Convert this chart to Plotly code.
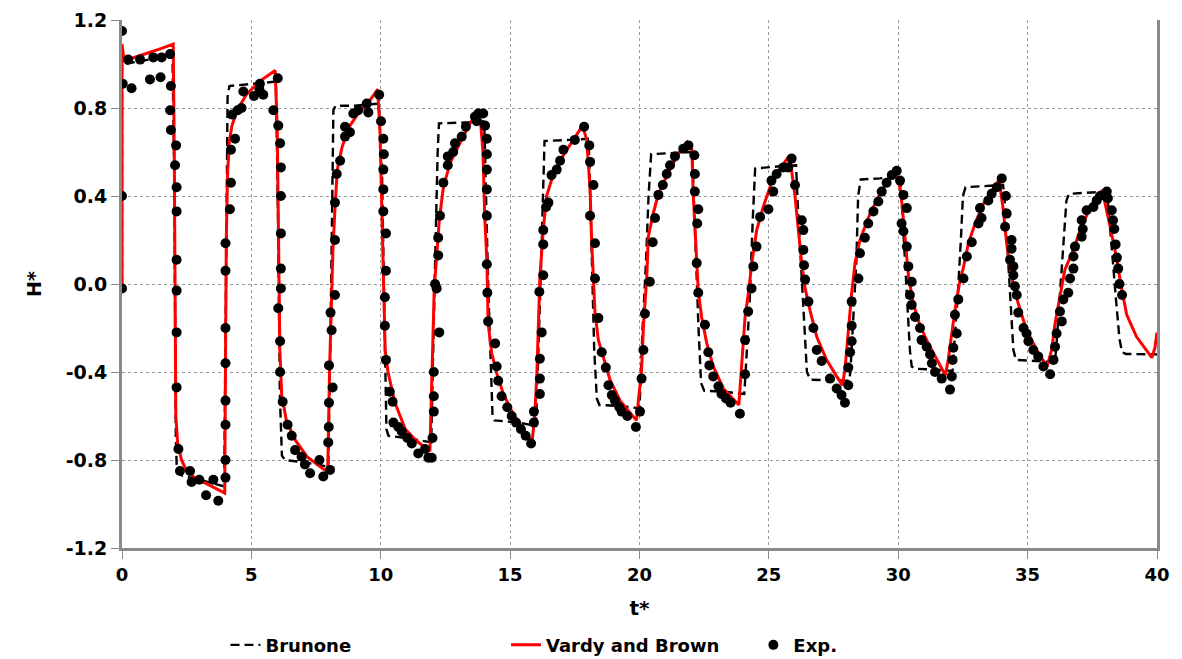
import plotly.graph_objects as go

vb_t = [0.0, 0.0, 0.08, 0.5, 1.0, 1.5, 1.98,
        2.02, 2.05, 2.08, 2.15, 2.3, 2.5, 2.8, 3.3, 3.97,
        4.03, 4.08, 4.15, 4.25, 4.45, 4.8, 5.3, 5.92,
        6.0, 6.05, 6.1, 6.17, 6.35, 6.7, 7.15, 7.65, 7.95,
        8.02, 8.08, 8.15, 8.23, 8.32, 8.5, 8.75, 9.13, 9.58, 9.88,
        9.97, 10.03, 10.1, 10.17, 10.28, 10.55, 10.95, 11.4, 11.9,
        11.98, 12.07, 12.16, 12.26, 12.42, 12.68, 13.06, 13.45, 13.82,
        13.95, 14.02, 14.1, 14.15, 14.29, 14.48, 14.74, 15.12, 15.51, 15.85,
        15.95, 16.03, 16.09, 16.15, 16.28, 16.41, 16.67, 17.06, 17.44, 17.8,
        17.96, 18.09, 18.15, 18.22, 18.28, 18.41, 18.6, 18.86, 19.25, 19.88,
        20.08, 20.15, 20.28, 20.34, 20.53, 20.73, 21.05, 21.44, 21.84,
        22.02, 22.08, 22.18, 22.27, 22.4, 22.6, 22.85, 23.24, 23.84,
        23.95, 24.08, 24.21, 24.34, 24.53, 24.78, 25.1, 25.43, 25.8,
        26.01, 26.14, 26.27, 26.4, 26.59, 26.85, 27.23, 27.62, 27.84,
        27.94, 28.07, 28.2, 28.33, 28.52, 28.84, 29.16, 29.55, 29.9,
        30.1, 30.2, 30.3, 30.4, 30.59, 30.84, 31.16, 31.49, 31.82,
        31.93, 32.07, 32.19, 32.39, 32.5, 32.71, 32.97, 33.29, 33.61, 33.9,
        34.06, 34.19, 34.38, 34.45, 34.64, 34.96, 35.35, 35.75,
        35.93, 36.06, 36.25, 36.44, 36.77, 37.03, 37.35, 37.67, 37.84,
        37.93, 38.19, 38.45, 38.6, 38.83, 39.21, 39.6, 39.8, 39.92, 40.0]
vb_h = [0.0, 1.09, 1.015, 1.03, 1.05, 1.07, 1.09,
        0.6, -0.2, -0.6, -0.72, -0.8, -0.85, -0.88, -0.91, -0.95,
        0.2, 0.5, 0.65, 0.72, 0.79, 0.86, 0.92, 0.97,
        0.7, 0.2, -0.3, -0.5, -0.62, -0.71, -0.785, -0.83, -0.855,
        -0.4, -0.1, 0.15, 0.34, 0.52, 0.62, 0.71, 0.775, 0.835, 0.885,
        0.7, 0.4, 0.0, -0.3, -0.4, -0.54, -0.66, -0.715, -0.76,
        -0.4, -0.01, 0.12, 0.29, 0.44, 0.55, 0.64, 0.73, 0.795,
        0.6, 0.3, 0.11, -0.18, -0.315, -0.405, -0.5, -0.59, -0.665, -0.715,
        -0.6, -0.42, -0.195, 0.03, 0.245, 0.4, 0.5, 0.585, 0.655, 0.72,
        0.655, 0.43, 0.2, 0.02, -0.13, -0.255, -0.33, -0.435, -0.53, -0.62,
        -0.39, -0.195, 0.03, 0.215, 0.32, 0.41, 0.49, 0.58, 0.645,
        0.615, 0.4, 0.17, -0.03, -0.15, -0.27, -0.375, -0.475, -0.55,
        -0.345, -0.15, -0.04, 0.095, 0.245, 0.35, 0.46, 0.525, 0.585,
        0.4, 0.245, 0.095, -0.02, -0.12, -0.24, -0.345, -0.42, -0.46,
        -0.39, -0.195, -0.04, 0.095, 0.2, 0.3, 0.38, 0.46, 0.515,
        0.42, 0.3, 0.15, 0.03, -0.09, -0.19, -0.27, -0.345, -0.415,
        -0.345, -0.225, -0.12, 0.02, 0.065, 0.185, 0.275, 0.365, 0.425, 0.475,
        0.335, 0.185, 0.03, 0.0, -0.09, -0.21, -0.3, -0.375,
        -0.3, -0.18, -0.06, 0.065, 0.155, 0.245, 0.33, 0.4, 0.42,
        0.4, 0.26, 0.11, 0.0, -0.14, -0.24, -0.305, -0.335, -0.29, -0.22]

br_t = [0.0, 0.0, 0.1, 1.0, 1.95,
        2.02, 2.08, 2.12, 2.3, 3.0, 3.95,
        4.02, 4.08, 4.15, 5.0, 5.95,
        6.03, 6.1, 6.18, 6.3, 7.0, 7.97,
        8.05, 8.12, 8.17, 8.25, 9.0, 9.92,
        10.05, 10.15, 10.22, 10.3, 11.0, 11.95,
        12.02, 12.12, 12.2, 12.25, 13.4, 14.0,
        14.15, 14.25, 14.32, 14.4, 15.3, 16.0,
        16.1, 16.2, 16.27, 16.33, 17.3, 18.0,
        18.05, 18.15, 18.25, 18.35, 18.45, 19.3, 20.0,
        20.12, 20.25, 20.35, 20.45, 21.2, 22.0,
        22.05, 22.15, 22.28, 22.38, 22.5, 23.3, 24.05,
        24.1, 24.25, 24.38, 24.47, 25.4, 26.05,
        26.12, 26.25, 26.4, 26.47, 26.6, 27.5, 28.1,
        28.15, 28.25, 28.38, 28.45, 28.55, 29.3, 30.05,
        30.1, 30.22, 30.35, 30.45, 30.52, 30.65, 31.5, 32.1,
        32.15, 32.3, 32.42, 32.5, 32.6, 33.2, 34.05,
        34.1, 34.22, 34.35, 34.45, 34.55, 35.3, 36.05,
        36.1, 36.25, 36.4, 36.5, 36.6, 37.3, 38.05,
        38.1, 38.25, 38.4, 38.55, 38.65, 38.8, 40.0]
br_h = [0.0, 1.0, 1.0, 1.02, 1.04,
        0.5, -0.7, -0.85, -0.87, -0.89, -0.92,
        0.0, 0.85, 0.9, 0.91, 0.92,
        0.3, -0.5, -0.78, -0.8, -0.81, -0.83,
        -0.3, 0.4, 0.79, 0.81, 0.81, 0.82,
        0.5, -0.2, -0.66, -0.69, -0.7, -0.72,
        -0.3, 0.2, 0.6, 0.73, 0.735, 0.74,
        0.0, -0.35, -0.6, -0.62, -0.63, -0.645,
        -0.3, 0.1, 0.4, 0.65, 0.655, 0.66,
        0.6, 0.1, -0.3, -0.52, -0.55, -0.555, -0.565,
        -0.2, 0.1, 0.4, 0.59, 0.595, 0.6,
        0.55, 0.2, -0.2, -0.45, -0.485, -0.49, -0.5,
        -0.4, -0.1, 0.3, 0.525, 0.535, 0.54,
        0.35, 0.05, -0.25, -0.4, -0.435, -0.44, -0.44,
        -0.4, -0.2, 0.1, 0.4, 0.475, 0.48, 0.49,
        0.45, 0.2, -0.1, -0.3, -0.375, -0.385, -0.39, -0.395,
        -0.3, -0.05, 0.2, 0.4, 0.44, 0.445, 0.45,
        0.4, 0.15, -0.1, -0.3, -0.345, -0.35, -0.355,
        -0.3, -0.05, 0.2, 0.38, 0.41, 0.415, 0.42,
        0.38, 0.15, -0.05, -0.25, -0.31, -0.318, -0.32]

# Experimental measurements
exp_t = [0.0, 0.0, 0.03, 0.0, 0.37, 0.24, 0.70, 1.08, 1.21, 1.49, 1.53, 1.86, 1.89,
         1.86, 1.89, 2.09, 2.05, 2.11, 2.11, 2.11, 2.11, 2.11, 2.11, 2.18, 2.24,
         2.63, 2.69, 2.99, 3.25, 3.53, 3.72, 4.0,
         4.0, 4.0, 4.0, 4.0, 4.0, 4.0, 4.0, 4.17, 4.21, 4.21, 4.37, 4.26, 4.47,
         4.62, 4.69, 5.1, 5.31, 5.46, 5.33, 6.02,
         5.85, 6.04, 6.11, 6.14, 6.14, 6.14, 6.14, 6.14, 6.04, 6.11, 6.11, 6.21,
         6.4, 6.56, 6.69, 6.94, 7.07, 7.27, 7.63, 7.78, 8.04,
         7.97, 7.99, 8.0, 8.14, 8.0, 8.1, 8.06, 8.23, 8.23, 8.23, 8.3, 8.43,
         8.62, 8.62, 8.81, 8.94, 9.13, 9.46, 9.52, 9.94,
         10.01, 10.1, 10.12, 10.1, 10.1, 10.1, 10.2, 10.2, 10.16, 10.16, 10.2,
         10.35, 10.46, 10.49, 10.68, 10.81, 11.03, 11.2, 11.45, 11.71, 11.84, 11.97,
         12.0, 12.05, 12.05, 12.05, 12.16, 12.26, 12.1, 12.22, 12.22, 12.29,
         12.42, 12.59, 12.59, 12.8, 12.87, 13.13, 13.29, 13.64, 13.77, 13.96, 13.71,
         14.03, 14.1, 14.1, 14.1, 14.1, 14.1, 14.1, 14.12, 14.15, 14.42, 14.48,
         14.54, 14.67, 14.89, 15.06, 15.23, 15.42, 15.6, 15.81,
         15.92, 15.92, 16.15, 16.15, 16.15, 16.22, 16.13, 16.28, 16.28, 16.28,
         16.39, 16.48, 16.6, 16.8, 16.93, 17.06, 17.5, 17.86,
         18.06, 18.09, 18.22, 18.09, 18.28, 18.28, 18.41, 18.54, 18.7, 18.8,
         18.93, 19.05, 19.22, 19.31, 19.53, 19.86,
         20.02, 20.08, 20.15, 20.21, 20.4, 20.51, 20.6, 20.73, 20.9, 21.05,
         21.18, 21.37, 21.69, 21.89,
         22.12, 22.14, 22.14, 22.27, 22.23, 22.21, 22.27, 22.53, 22.66, 22.7,
         22.85, 23.05, 23.17, 23.34, 23.52, 23.88,
         24.08, 24.08, 24.2, 24.33, 24.4, 24.52, 24.66, 24.98, 25.17, 25.1,
         25.3, 25.56, 25.88, 25.75,
         26.01, 26.27, 26.33, 26.33, 26.36, 26.4, 26.53, 26.72, 26.85, 27.04,
         27.36, 27.62, 27.81, 27.94,
         28.07, 28.07, 28.14, 28.2, 28.2, 28.2, 28.46, 28.52, 28.71, 28.84,
         29.04, 29.23, 29.36, 29.55, 29.75, 29.94,
         30.07, 30.2, 30.33, 30.13, 30.2, 30.33, 30.39, 30.52, 30.45, 30.52,
         30.65, 30.84, 30.9, 31.1, 31.23, 31.3, 31.42, 31.68, 32.0,
         32.07, 32.1, 32.13, 32.26, 32.19, 32.32, 32.52, 32.65, 32.84, 33.1,
         33.22, 33.16, 33.48, 33.61, 33.81, 34.0,
         34.16, 34.19, 34.13, 34.38, 34.38, 34.32, 34.45, 34.45, 34.51, 34.58,
         34.64, 34.84, 34.96, 35.03, 35.22, 35.41, 35.61, 35.87,
         36.0, 36.06, 36.12, 36.32, 36.25, 36.38, 36.57, 36.64, 36.77, 36.77,
         36.83, 37.09, 37.13, 37.09, 37.28, 37.54, 37.67, 37.8, 38.06, 38.25,
         38.1, 38.3, 38.35, 38.4, 38.45, 38.5, 38.55, 38.65]
exp_h = [-0.02, 0.40, 0.91, 1.15, 0.89, 1.02, 1.02, 0.93, 1.03, 0.94, 1.03, 1.045, 0.90,
         0.79, 0.70, 0.63, 0.54, 0.44, 0.33, 0.11, -0.03, -0.22, -0.47, -0.75, -0.85,
         -0.85, -0.90, -0.89, -0.96, -0.89, -0.985, -0.88,
         -0.80, -0.64, -0.53, -0.36, -0.20, 0.06, 0.185, 0.34, 0.46, 0.61, 0.66, 0.77, 0.79,
         0.80, 0.875, 0.855, 0.885, 0.86, 0.91, 0.935,
         0.79, 0.72, 0.64, 0.53, 0.40, 0.23, 0.07, -0.02, -0.11, -0.26, -0.40, -0.535,
         -0.64, -0.69, -0.755, -0.785, -0.82, -0.86, -0.80, -0.875, -0.845,
         -0.72, -0.65, -0.54, -0.47, -0.37, -0.21, -0.13, -0.05, 0.20, 0.37, 0.50, 0.56,
         0.67, 0.715, 0.69, 0.775, 0.79, 0.82, 0.78, 0.86,
         0.74, 0.66, 0.59, 0.52, 0.43, 0.33, 0.23, 0.06, -0.06, -0.19, -0.345,
         -0.49, -0.535, -0.63, -0.65, -0.67, -0.70, -0.725, -0.77, -0.75, -0.79, -0.79,
         -0.70, -0.58, -0.51, -0.40, -0.02, -0.22, 0.0, 0.13, 0.21, 0.31,
         0.46, 0.54, 0.58, 0.60, 0.64, 0.67, 0.715, 0.76, 0.775, 0.775, 0.74,
         0.72, 0.66, 0.59, 0.52, 0.43, 0.31, 0.09, -0.04, -0.17, -0.27, -0.375,
         -0.44, -0.51, -0.56, -0.60, -0.63, -0.66, -0.69, -0.725,
         -0.63, -0.58, -0.50, -0.43, -0.34, -0.22, -0.035, 0.04, 0.18, 0.245,
         0.35, 0.37, 0.495, 0.52, 0.56, 0.61, 0.655, 0.715,
         0.63, 0.555, 0.45, 0.31, 0.185, 0.025, -0.155, -0.31, -0.38, -0.46,
         -0.505, -0.53, -0.56, -0.58, -0.60, -0.65,
         -0.58, -0.43, -0.30, -0.135, 0.01, 0.19, 0.30, 0.405, 0.45, 0.50,
         0.54, 0.58, 0.615, 0.63,
         0.585, 0.50, 0.42, 0.34, 0.275, 0.095, -0.04, -0.185, -0.31, -0.37,
         -0.42, -0.465, -0.50, -0.52, -0.54, -0.59,
         -0.41, -0.255, -0.125, -0.02, 0.08, 0.17, 0.305, 0.34, 0.42, 0.47,
         0.50, 0.53, 0.57, 0.53,
         0.45, 0.29, 0.245, 0.155, 0.085, 0.02, -0.08, -0.20, -0.30, -0.35,
         -0.43, -0.475, -0.505, -0.54,
         -0.46, -0.38, -0.31, -0.26, -0.19, -0.08, 0.025, 0.14, 0.21, 0.275,
         0.33, 0.375, 0.42, 0.46, 0.495, 0.515,
         0.47, 0.405, 0.345, 0.275, 0.24, 0.17, 0.08, 0.01, -0.05, -0.095,
         -0.15, -0.20, -0.255, -0.285, -0.32, -0.36, -0.40, -0.43, -0.48,
         -0.42, -0.345, -0.29, -0.225, -0.14, -0.07, 0.025, 0.125, 0.19, 0.275,
         0.30, 0.345, 0.38, 0.41, 0.44, 0.48,
         0.40, 0.32, 0.26, 0.20, 0.16, 0.11, 0.08, 0.04, -0.01, -0.05,
         -0.13, -0.20, -0.225, -0.26, -0.30, -0.33, -0.375, -0.41,
         -0.345, -0.285, -0.225, -0.17, -0.125, -0.07, -0.04, 0.025, 0.07, 0.125,
         0.17, 0.215, 0.25, 0.29, 0.335, 0.35, 0.38, 0.40, 0.42, 0.335,
         0.39, 0.29, 0.25, 0.18, 0.12, 0.07, 0.0, -0.05]

x_ticks = [0, 5, 10, 15, 20, 25, 30, 35, 40]
y_ticks = [-1.2, -0.8, -0.4, 0.0, 0.4, 0.8, 1.2]
y_tick_labels = ["-1.2", "-0.8", "-0.4", "0.0", "0.4", "0.8", "1.2"]

FONT = "DejaVu Sans"
AXIS_GREY = "#8a8a8a"
GRID_GREY = "#9a9a9a"
LEGEND_FONT = dict(family=FONT, size=18, weight="bold")

fig = go.Figure()

fig.add_trace(go.Scatter(
    x=br_t, y=br_h, mode="lines", name="Brunone", legend="legend",
    line=dict(color="black", width=2.4, dash="9px,5px"),
))
fig.add_trace(go.Scatter(
    x=vb_t, y=vb_h, mode="lines", name="Vardy and Brown", legend="legend2",
    line=dict(color="#ff0000", width=3),
))
fig.add_trace(go.Scatter(
    x=exp_t, y=exp_h, mode="markers", name="Exp.", legend="legend3",
    marker=dict(color="black", size=10),
))

legend_common = dict(orientation="h", y=-0.184, yanchor="middle", xanchor="left",
                     font=LEGEND_FONT, bgcolor="rgba(0,0,0,0)")

fig.update_layout(
    width=1182, height=659,
    margin=dict(l=122, r=25, t=20, b=111, autoexpand=False),
    paper_bgcolor="white", plot_bgcolor="white",
    font=dict(family=FONT, color="black"),
    showlegend=True,
    legend=dict(x=0.100, **legend_common),
    legend2=dict(x=0.371, **legend_common),
    legend3=dict(x=0.610, **legend_common),
)

fig.update_xaxes(
    range=[0, 40], tickvals=x_ticks,
    showgrid=True, gridcolor=GRID_GREY, griddash="dot", gridwidth=1,
    showline=True, linecolor=AXIS_GREY, linewidth=3,
    ticks="outside", ticklen=8, tickcolor=AXIS_GREY, tickwidth=1,
    tickfont=dict(family=FONT, size=18, weight="bold"),
    title=dict(text="t*", font=dict(family=FONT, size=20, weight="bold"), standoff=18),
    zeroline=False,
)
fig.update_yaxes(
    range=[-1.2, 1.2], tickvals=y_ticks, ticktext=y_tick_labels,
    showgrid=True, gridcolor=GRID_GREY, griddash="dot", gridwidth=1,
    showline=True, linecolor=AXIS_GREY, linewidth=3, mirror=True,
    ticks="outside", ticklen=8, tickcolor=AXIS_GREY, tickwidth=1,
    tickfont=dict(family=FONT, size=19, weight="bold"),
    title=dict(text="H*", font=dict(family=FONT, size=19, weight="bold"), standoff=20),
    zeroline=False,
)

fig.write_html("out.html")
